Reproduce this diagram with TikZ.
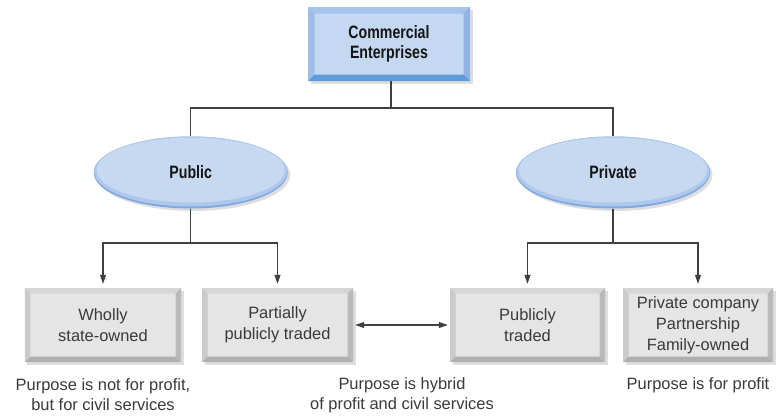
\documentclass[tikz,border=0pt]{standalone}
\usepackage{fontspec}
\setmainfont{Liberation Sans}
\newfontfamily\condbold{Liberation Sans}[FakeStretch=0.79]
\usetikzlibrary{arrows.meta,shadows,shapes.geometric}
\definecolor{gface}{HTML}{E5E5E5}
\definecolor{gtop}{HTML}{D6D6D6}
\definecolor{gleft}{HTML}{CACACA}
\definecolor{gright}{HTML}{BABABA}
\definecolor{gbottom}{HTML}{AFAFAF}
\definecolor{bface}{HTML}{C5D8F1}
\definecolor{btop}{HTML}{A6C3EA}
\definecolor{bleft}{HTML}{9EBEE8}
\definecolor{bright}{HTML}{8FB4E4}
\definecolor{bbottom}{HTML}{5D9BD9}
\definecolor{eface}{HTML}{C7D9F1}
\definecolor{elight}{HTML}{ADC8EC}
\definecolor{erim}{HTML}{7FA8DE}
\definecolor{linec}{HTML}{404040}
\definecolor{gtext}{HTML}{3A3A3A}
\definecolor{btext}{HTML}{151515}
\tikzset{
  bevel/.style n args={5}{path picture={
    \path (path picture bounding box.north west) coordinate (@nw)
          (path picture bounding box.north east) coordinate (@ne)
          (path picture bounding box.south west) coordinate (@sw)
          (path picture bounding box.south east) coordinate (@se);
    \fill[#1] (@nw) -- (@ne) -- ([shift={(-#5,-#5)}]@ne) -- ([shift={(#5,-#5)}]@nw) -- cycle;
    \fill[#2] (@nw) -- (@sw) -- ([shift={(#5,#5)}]@sw) -- ([shift={(#5,-#5)}]@nw) -- cycle;
    \fill[#3] (@ne) -- (@se) -- ([shift={(-#5,#5)}]@se) -- ([shift={(-#5,-#5)}]@ne) -- cycle;
    \fill[#4] (@sw) -- (@se) -- ([shift={(-#5,#5)}]@se) -- ([shift={(#5,#5)}]@sw) -- cycle;
  }},
  graybox/.style={rectangle, inner sep=0pt, align=center, minimum height=74bp,
    fill=gface, text=gtext, font=\fontsize{16.5}{21}\selectfont,
    drop shadow={shadow xshift=2.5bp, shadow yshift=-2.5bp, fill=black, opacity=0.13},
    bevel={gtop}{gleft}{gright}{gbottom}{5.5bp}},
  bluebox/.style={rectangle, inner sep=0pt, align=center, minimum height=74bp,
    minimum width=162bp, fill=bface, text=btext,
    font=\condbold\bfseries\fontsize{18}{20}\selectfont,
    drop shadow={shadow xshift=2.5bp, shadow yshift=-2.5bp, fill=black, opacity=0.13},
    bevel={btop}{bleft}{bright}{bbottom}{6.5bp}},
  ell/.style={ellipse, inner sep=0pt, minimum width=194bp, minimum height=72bp,
    fill=erim, text=btext, font=\condbold\bfseries\fontsize{18}{20}\selectfont,
    drop shadow={shadow xshift=2.5bp, shadow yshift=-2.5bp, fill=black, opacity=0.13},
    path picture={
      \fill[elight] ([yshift=1bp]path picture bounding box.center) ellipse [x radius=96.5bp, y radius=35bp];
      \fill[eface] ([yshift=2.5bp]path picture bounding box.center) ellipse [x radius=94bp, y radius=32.5bp];
    }},
  caption/.style={align=center, text=gtext, font=\fontsize{16.5}{20}\selectfont, inner sep=0pt},
  conn/.style={draw=linec, line width=1.1bp},
  arr/.style={conn, -{Triangle[length=9bp,width=6bp]}, shorten >=4bp},
  dbl/.style={conn, {Triangle[length=9bp,width=6bp]}-{Triangle[length=9bp,width=6bp]}, shorten >=2bp, shorten <=2bp}
}
\begin{document}
\begin{tikzpicture}[x=1bp,y=-1bp]
\useasboundingbox[fill=white] (0,0) rectangle (776,417);

\node[bluebox] (top) at (389,44) {Commercial\\Enterprises};

\node[ell] (pub) at (190.7,172.5) {Public};
\node[ell] (priv) at (613,172.5) {Private};

\node[graybox, minimum width=156bp] (b1) at (103,325) {Wholly\\state-owned};
\node[graybox, minimum width=151bp] (b2) at (277.5,325) {Partially\\publicly traded};
\node[graybox, minimum width=155bp] (b3) at (527.5,325) {Publicly\\traded};
\node[graybox, minimum width=150bp] (b4) at (698,325) {Private company\\Partnership\\Family-owned};

\node[caption] (c1) at (103,395) {Purpose is not for profit,\\but for civil services};
\node[caption] (c2) at (402,395) {Purpose is hybrid\\of profit and civil services};
\node[caption] (c3) at (698,385) {Purpose is for profit};

\coordinate (j0) at (391,108);
\coordinate (jpub) at (190.7,243);
\coordinate (jpriv) at (613,243);

\draw[conn] (top.south -| j0) -- (j0);
\draw[conn] (j0) -| (pub.north);
\draw[conn] (j0) -| (priv.north);

\draw[conn] (pub.south) -- (jpub);
\draw[arr] (jpub) -| (b1.north);
\draw[arr] (jpub) -| (b2.north);

\draw[conn] (priv.south) -- (jpriv);
\draw[arr] (jpriv) -| (b3.north);
\draw[arr] (jpriv) -| (b4.north);

\draw[dbl] (b2.east) -- (b3.west);
\end{tikzpicture}
\end{document}
